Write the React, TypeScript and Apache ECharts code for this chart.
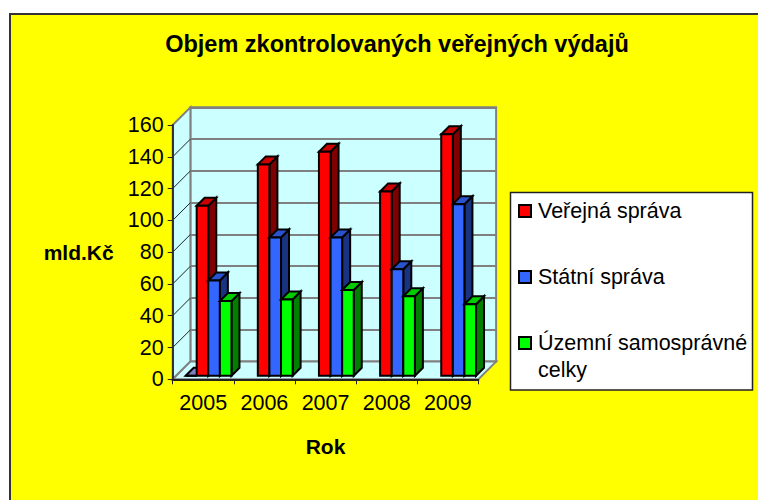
import React, { useEffect, useRef } from "react";
import * as echarts from "echarts";

const years = ["2005", "2006", "2007", "2008", "2009"];
const verejna = [107, 133, 141, 116, 152];
const statni = [60, 87, 87, 67, 108];
const uzemni = [47, 48, 54, 50, 45];
const stray = [0, null, null, null, null];
const yTicks = [0, 20, 40, 60, 80, 100, 120, 140, 160];
const legendNames = ["Veřejná správa", "Státní správa", "Územní samosprávné celky"];

const FONT = '"Liberation Sans", Arial, sans-serif';
const GRID = { left: 172.7, top: 125, width: 305.7, height: 254.3 };
const DEPTH = 17.7;
const BAR_DEPTH = 8;
const BAR_W = 11.6;
const BAR_START = -6.6;
const BASE_LIFT = 3.5;

function barSeries(name: string, values: (number | null)[], slot: number, face: string, top: string, side: string, z: number, startOverride?: number, width?: number) {
  return {
    type: "custom",
    name,
    z,
    xAxisIndex: 0,
    yAxisIndex: 0,
    itemStyle: { color: face },
    data: values.map((v, i) => [i, v]),
    renderItem: (_p: any, api: any) => {
      const value = api.value(1);
      if (value === null || value === undefined || isNaN(value)) return null;
      const c = api.coord([api.value(0), value]);
      const b = api.coord([api.value(0), 0]);
      const w = width ?? BAR_W;
      const x0 = c[0] + (startOverride ?? BAR_START + slot * BAR_W);
      const x1 = x0 + w;
      const y0 = c[1] - BASE_LIFT;
      const y1 = b[1] - BASE_LIFT;
      const d = BAR_DEPTH;
      const stroke = { stroke: "#000", lineWidth: 2, lineJoin: "miter" };
      return {
        type: "group",
        children: [
          { type: "polygon", shape: { points: [[x1, y0], [x1 + d, y0 - d], [x1 + d, y1 - d], [x1, y1]] }, style: { fill: side, ...stroke } },
          { type: "polygon", shape: { points: [[x0, y0], [x0 + d, y0 - d], [x1 + d, y0 - d], [x1, y0]] }, style: { fill: top, ...stroke } },
          { type: "rect", shape: { x: x0, y: y0, width: w, height: y1 - y0 }, style: { fill: face, ...stroke } },
        ],
      };
    },
  };
}

export default function App() {
  const ref = useRef<HTMLDivElement>(null);
  useEffect(() => {
    document.body.style.margin = "0";
    const chart = echarts.init(ref.current!, undefined, { renderer: "svg" });
    const axisText = { color: "#000", fontFamily: FONT, fontSize: 21.5 };
    chart.setOption({
      animation: false,
      backgroundColor: "#fff",
      textStyle: { fontFamily: FONT },
      title: {
        text: "Objem zkontrolovaných veřejných výdajů",
        left: 392,
        top: 27,
        textAlign: "center",
        textStyle: { color: "#000", fontFamily: FONT, fontSize: 23.5, fontWeight: "bold" },
      },
      graphic: [
        { type: "rect", z: -10, silent: true, shape: { x: 10, y: 14, width: 760, height: 500 }, style: { fill: "#FFFF00", stroke: "#333", lineWidth: 2 } },
        { type: "rect", z: -9, silent: true, shape: { x: 510.5, y: 192.5, width: 242, height: 197.5 }, style: { fill: "#fff", stroke: "#222", lineWidth: 1.5 } },
      ],
      legend: [
        {
          left: 518,
          top: 197.5,
          orient: "vertical",
          padding: 0,
          itemGap: 39,
          itemWidth: 12,
          itemHeight: 12,
          icon: "rect",
          selectedMode: false,
          itemStyle: { borderColor: "#000", borderWidth: 2 },
          data: [legendNames[0], legendNames[1]],
          textStyle: { color: "#000", fontFamily: FONT, fontSize: 21.5, lineHeight: 27, padding: [0, 0, 0, 2] },
        },
        {
          left: 518,
          top: 302.5,
          orient: "vertical",
          padding: 0,
          itemWidth: 12,
          itemHeight: 12,
          icon: "rect",
          selectedMode: false,
          itemStyle: { borderColor: "#000", borderWidth: 2 },
          data: [legendNames[2]],
          formatter: () => "\nÚzemní samosprávné\ncelky",
          textStyle: { color: "#000", fontFamily: FONT, fontSize: 21.5, lineHeight: 27, padding: [0, 0, 0, 2] },
        },
      ],
      grid: [
        { ...GRID, containLabel: false },
        {
          left: GRID.left + DEPTH,
          top: GRID.top - DEPTH,
          width: GRID.width,
          height: GRID.height,
          show: true,
          backgroundColor: "#CCFFFF",
          borderColor: "#808080",
          borderWidth: 2,
        },
      ],
      xAxis: [
        {
          type: "category",
          gridIndex: 0,
          data: years,
          name: "Rok",
          nameLocation: "middle",
          nameGap: 57,
          nameTextStyle: { color: "#000", fontFamily: FONT, fontSize: 21, fontWeight: "bold" },
          axisLine: { lineStyle: { color: "#222", width: 2 } },
          axisTick: { show: true, interval: 0, alignWithLabel: false, length: 5, lineStyle: { color: "#222", width: 1 } },
          axisLabel: { ...axisText, margin: 13, interval: 0, hideOverlap: false },
          splitLine: { show: false },
          z: 8,
        },
        { type: "category", gridIndex: 1, data: years, show: false },
      ],
      yAxis: [
        {
          type: "value",
          gridIndex: 0,
          min: 0,
          max: 160,
          interval: 20,
          name: "mld.Kč",
          nameLocation: "middle",
          nameRotate: 0,
          nameGap: 59,
          nameTextStyle: { color: "#000", fontFamily: FONT, fontSize: 21, fontWeight: "bold" },
          axisLine: { show: true, lineStyle: { color: "#333", width: 2 } },
          axisTick: { show: true, length: 5, lineStyle: { color: "#222", width: 1 } },
          axisLabel: { ...axisText, margin: 9 },
          splitLine: { show: false },
          z: 8,
        },
        {
          type: "value",
          gridIndex: 1,
          min: 0,
          max: 160,
          interval: 20,
          axisLine: { show: false },
          axisTick: { show: false },
          axisLabel: { show: false },
          splitLine: { show: true, lineStyle: { color: "#808080", width: 2 } },
        },
      ],
      series: [
        {
          type: "custom",
          name: "stěny",
          silent: true,
          z: 1,
          xAxisIndex: 0,
          yAxisIndex: 0,
          data: yTicks.map((t) => [0, t]),
          renderItem: (p: any, api: any) => {
            const v = api.value(1);
            const a = api.coord([0, v]);
            const x0 = GRID.left;
            const x1 = x0 + GRID.width;
            const children: any[] = [];
            if (p.dataIndex === 0) {
              const top = api.coord([0, 160])[1];
              const bottom = api.coord([0, 0])[1];
              const d = DEPTH;
              children.push(
                { type: "polygon", shape: { points: [[x0, top], [x0 + d, top - d], [x0 + d, bottom - d], [x0, bottom]] }, style: { fill: "#CCFFFF", stroke: "#808080", lineWidth: 2 } },
                { type: "polygon", shape: { points: [[x0, bottom], [x0 + d, bottom - d], [x1 + d, bottom - d], [x1, bottom]] }, style: { fill: "#CCFFFF", stroke: "#808080", lineWidth: 2 } },
              );
            }
            const edge = v === 0 || v === 160;
            if (!edge) {
              children.push({ type: "line", shape: { x1: x0, y1: a[1], x2: x0 + DEPTH, y2: a[1] - DEPTH }, style: { stroke: "#222", lineWidth: 1 } });
            }
            return { type: "group", children };
          },
        },
        barSeries("Ostatní", stray, 0, "#9999CC", "#8080C0", "#666699", 2, -17.6, 10.4),
        barSeries(legendNames[0], verejna, 0, "#FF0000", "#CC0000", "#7F0000", 3),
        barSeries(legendNames[1], statni, 1, "#3366FF", "#2A52CC", "#1A3380", 4),
        barSeries(legendNames[2], uzemni, 2, "#00FF00", "#00CC00", "#007F00", 5),
      ],
    });
    return () => chart.dispose();
  }, []);
  return <div ref={ref} style={{ position: "fixed", left: 0, top: 0, width: 758, height: 500 }} />;
}
